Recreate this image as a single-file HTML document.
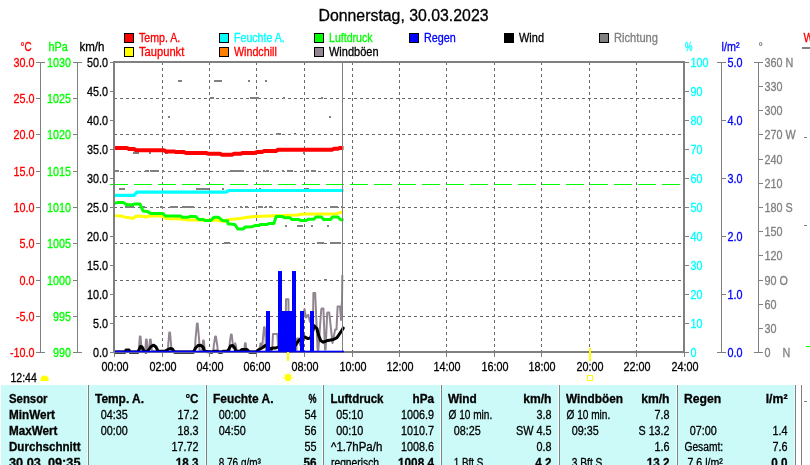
<!DOCTYPE html>
<html lang="de"><head><meta charset="utf-8"><title>Donnerstag, 30.03.2023</title>
<style>
html,body{margin:0;padding:0;background:#fff;}
body{width:810px;height:465px;overflow:hidden;}
svg{display:block;font-family:"Liberation Sans", sans-serif;font-size:12px;}
text{stroke-width:0.3px}
.b{font-weight:bold}
.ce{shape-rendering:crispEdges}
</style></head><body>
<svg width="810" height="465" viewBox="0 0 810 465">
<rect width="810" height="465" fill="#fff"/>
<g class="ce" stroke="#686868" stroke-width="1" stroke-dasharray="3 3" fill="none">
<line x1="114" y1="98.5" x2="684" y2="98.5"/>
<line x1="114" y1="134.5" x2="684" y2="134.5"/>
<line x1="114" y1="171.5" x2="684" y2="171.5"/>
<line x1="114" y1="207.5" x2="684" y2="207.5"/>
<line x1="114" y1="243.5" x2="684" y2="243.5"/>
<line x1="114" y1="280.5" x2="684" y2="280.5"/>
<line x1="114" y1="316.5" x2="684" y2="316.5"/>
<line x1="162.5" y1="62" x2="162.5" y2="352"/>
<line x1="209.5" y1="62" x2="209.5" y2="352"/>
<line x1="256.5" y1="62" x2="256.5" y2="352"/>
<line x1="304.5" y1="62" x2="304.5" y2="352"/>
<line x1="352.5" y1="62" x2="352.5" y2="352"/>
<line x1="399.5" y1="62" x2="399.5" y2="352"/>
<line x1="446.5" y1="62" x2="446.5" y2="352"/>
<line x1="494.5" y1="62" x2="494.5" y2="352"/>
<line x1="541.5" y1="62" x2="541.5" y2="352"/>
<line x1="589.5" y1="62" x2="589.5" y2="352"/>
<line x1="636.5" y1="62" x2="636.5" y2="352"/>
</g>
<g class="ce" fill="#808080">
<rect x="178" y="80" width="4" height="2"/>
<rect x="214" y="80" width="8" height="2"/>
<rect x="248" y="80" width="2" height="2"/>
<rect x="265" y="80" width="2" height="2"/>
<rect x="210" y="97" width="4" height="2"/>
<rect x="250" y="97" width="9" height="2"/>
<rect x="283" y="97" width="2" height="2"/>
<rect x="321" y="97" width="2" height="2"/>
<rect x="168" y="116" width="2" height="2"/>
<rect x="329" y="116" width="2" height="2"/>
<rect x="276" y="133" width="5" height="2"/>
<rect x="294" y="133" width="2" height="2"/>
<rect x="133" y="152" width="6" height="2"/>
<rect x="149" y="152" width="2" height="2"/>
<rect x="165" y="152" width="3" height="2"/>
<rect x="303" y="152" width="2" height="2"/>
<rect x="115" y="170" width="4" height="2"/>
<rect x="145" y="170" width="4" height="2"/>
<rect x="150" y="170" width="9" height="2"/>
<rect x="162" y="170" width="2" height="2"/>
<rect x="194" y="170" width="2" height="2"/>
<rect x="230" y="170" width="14" height="2"/>
<rect x="263" y="170" width="2" height="2"/>
<rect x="266" y="170" width="3" height="2"/>
<rect x="282" y="170" width="2" height="2"/>
<rect x="287" y="170" width="6" height="2"/>
<rect x="306" y="170" width="3" height="2"/>
<rect x="311" y="170" width="5" height="2"/>
<rect x="119" y="188" width="6" height="2"/>
<rect x="196" y="188" width="13" height="2"/>
<rect x="222" y="188" width="2" height="2"/>
<rect x="259" y="188" width="2" height="2"/>
<rect x="305" y="188" width="4" height="2"/>
<rect x="125" y="206" width="9" height="2"/>
<rect x="142" y="206" width="3" height="2"/>
<rect x="160" y="206" width="3" height="2"/>
<rect x="170" y="206" width="8" height="2"/>
<rect x="182" y="206" width="12" height="2"/>
<rect x="228" y="206" width="2" height="2"/>
<rect x="240" y="206" width="2" height="2"/>
<rect x="245" y="206" width="3" height="2"/>
<rect x="258" y="206" width="5" height="2"/>
<rect x="265" y="206" width="2" height="2"/>
<rect x="269" y="206" width="3" height="2"/>
<rect x="294" y="206" width="2" height="2"/>
<rect x="306" y="206" width="2" height="2"/>
<rect x="330" y="206" width="8" height="2"/>
<rect x="341" y="206" width="2" height="2"/>
<rect x="285" y="225" width="2" height="2"/>
<rect x="297" y="225" width="6" height="2"/>
<rect x="311" y="225" width="2" height="2"/>
<rect x="327" y="225" width="2" height="2"/>
<rect x="224" y="242" width="6" height="2"/>
<rect x="317" y="242" width="7" height="2"/>
<rect x="330" y="242" width="11" height="2"/>
<rect x="324" y="279" width="3" height="2"/>
</g>
<line class="ce" x1="110" y1="184.5" x2="684" y2="184.5" stroke="#00ff00" stroke-width="1" stroke-dasharray="18 6"/>
<polyline fill="none" stroke="#928592" stroke-width="2" stroke-linejoin="round" points="115,351 138.6,351 139.1,345.75 139.85,336.5 140.55,336.5 141.3,345.75 141.8,351 145.0,351 145.5,347.25 146.05,339.5 146.75,339.5 147.3,347.25 147.8,351 148.8,351 149.3,347.25 150.05,339.5 150.75,339.5 151.5,347.25 152,351 167.8,351 168.3,343.75 169.3,332.5 170.0,332.5 171.0,343.75 171.5,351 195,351 195.5,339.25 196.95,323.5 197.65,323.5 199.1,339.25 199.6,351 201.9,351 202.4,347.75 203.1,340.5 203.8,340.5 204.5,347.75 205,351 213.3,351 213.8,345.75 215.2,336.5 215.9,336.5 217.3,345.75 217.8,351 229.3,351 229.8,342 231,334.5 231.7,334.5 232.6,342 233.2,348 234.2,346 235.2,343.3 236,346 236.6,351 243.9,351 244.4,349.15 245.0,343.3 245.7,343.3 246.3,349.15 246.8,351 259.2,351 260.4,343.6 261.2,343.6 262.2,348 263,338 264,327.2 264.8,327.2 265.6,340 266,351 271.6,351 272.4,346 273,334 277.4,334 278,345 285.4,345 286,299.2 288.4,299.2 289,345 296.3,351 297,338.5 299,338.5 300,345 304,312 304.5,309 306,317.5 308.2,314.8 310,322 313,318 313.4,293 315.2,293 317.6,350 318.4,350 321.2,310 321.6,308.4 323.4,308.4 325,349.5 325.6,349.5 327.2,313 327.6,312.4 329.2,312.4 332.5,343 335.2,329.4 336.5,329.4 337.6,306.6 340,306.6 341,320 342,300 342.3,275"/>
<polyline fill="none" stroke="#000" stroke-width="3" stroke-linejoin="round" stroke-linecap="round" points="115,352.2 125,352.2 126,350 129,350 130,352.2 138,352.2 140.5,346.5 142,347 144,351.2 146,352.2 148.5,350 151,346.5 153.7,345.2 156,347 158,351.2 165,351.2 167,350 170,348.5 172.5,349 174.5,352.2 193.5,352.2 195.5,348 198,345.5 200.5,345.2 203,347 204.5,351.2 212,352.2 214,351.2 217,351.2 219,352.2 222,352.2 223,351.2 227,351.2 228.5,350 230.5,346 232.5,345.5 234.5,347.5 236,351.2 240,351.2 242,349.5 247,349.5 249.5,352.2 256,352.2 258,350 261,348.5 263.5,347 265.5,345.3 268,347 270.5,349 273,348 276,348 278,347 295,345.9 298.7,340.4 300,339.5 304.1,336.7 307.8,338.6 310.5,338 312.5,332 314.2,325.8 316.9,328.5 318.8,335.8 320.6,340.4 323.3,342.2 327.9,340.4 333.4,339.5 337,337.6 340.7,332.2 343.2,328.1"/>
<g class="ce" fill="#0000ff">
<rect x="266" y="311" width="4" height="41"/>
<rect x="278" y="271" width="4" height="81"/>
<rect x="282" y="311" width="11" height="41"/>
<rect x="292" y="271" width="4" height="81"/>
<rect x="300" y="311" width="4" height="41"/>
<rect x="310" y="311" width="4" height="41"/>
</g>
<polyline fill="none" stroke="#ffff00" stroke-width="3" stroke-linejoin="round" points="114.5,215.8 122,216.1 125,217.2 129.6,217.7 132.6,218.4 136.4,216.1 144.6,216.4 146,217.2 149,216.1 162.7,216.1 165.7,218.4 180.8,218.9 188.3,219.9 195.8,219.9 205,220.2 215.4,219.9 224.5,221.4 226,220.7 229.5,219.5 240,218.4 247.6,217.2 255,216.4 274.7,215.8 297.3,214.9 303.3,213.9 336.4,213.9 342.5,211.9"/>
<polyline fill="none" stroke="#00ff00" stroke-width="3" stroke-linejoin="round" points="114.5,203.3 117.5,202.6 123.5,202.6 126.6,204.8 132.6,204.8 134,204.1 140,204.1 143,210.9 147.6,211.6 150.7,213.4 162.7,213.4 165.7,216.1 180.8,216.1 182.3,217.2 188.3,217.2 189.8,216.6 195.8,216.6 198.9,219.5 203.4,219.5 204.9,220.4 210.9,220.4 213.9,217.2 218.4,217.2 222.2,220.4 227.5,220.7 228,223.7 234.8,224.4 237.8,229 243,229 245.3,227 252,226.7 255,225.6 259,225.6 260.4,224.4 267.2,224.4 268.7,223.4 274,223.4 276.2,216.4 282.2,216.4 284.5,217.7 289.8,217.7 292,219.5 298.8,219.5 300.3,220.4 306.3,220.4 308.6,219.2 313.9,219.2 316.1,216.9 321.4,216.9 323.6,219.5 330.4,219.5 332.7,216.9 338,216.9 340.2,219.5 343.5,219.9"/>
<polyline fill="none" stroke="#00ffff" stroke-width="3.2" stroke-linejoin="round" points="115,195.4 134,195.4 137,192.2 226,192.2 229,190.5 343.5,190.5"/>
<polyline fill="none" stroke="#ff0000" stroke-width="4" stroke-linejoin="round" points="115,147.9 127,147.9 129,149 134,149 136,150.3 164,150.3 166,151.4 174,151.4 176,152.1 184,152.1 186,153 206,153 208,153.7 220,153.7 222,154.8 232,154.8 234,153.7 241,153.7 243,152.9 255,152.9 257,152.1 262,152.1 264,151 276,151 278,149.8 332,149.8 334,148.8 338,148.8 340,147.9 343.5,147.9"/>
<line class="ce" x1="342.5" y1="62" x2="342.5" y2="352" stroke="#808080" stroke-width="1"/>
<g class="ce" stroke="#808080" fill="none">
<line x1="114" y1="61" x2="114" y2="353" stroke-width="2"/>
<line x1="684" y1="61" x2="684" y2="353" stroke-width="2"/>
<line x1="113" y1="62" x2="685" y2="62" stroke-width="2"/>
<line x1="113" y1="352" x2="685" y2="352" stroke-width="2"/>
<line x1="40.5" y1="62" x2="40.5" y2="352"/>
<line x1="36.0" y1="62.5" x2="44.5" y2="62.5"/>
<line x1="36.0" y1="98.5" x2="40.5" y2="98.5"/>
<line x1="36.0" y1="134.5" x2="40.5" y2="134.5"/>
<line x1="36.0" y1="171.5" x2="40.5" y2="171.5"/>
<line x1="36.0" y1="207.5" x2="40.5" y2="207.5"/>
<line x1="36.0" y1="243.5" x2="40.5" y2="243.5"/>
<line x1="36.0" y1="280.5" x2="40.5" y2="280.5"/>
<line x1="36.0" y1="316.5" x2="40.5" y2="316.5"/>
<line x1="36.0" y1="352.5" x2="44.5" y2="352.5"/>
<line x1="77.5" y1="62" x2="77.5" y2="352"/>
<line x1="73.0" y1="62.5" x2="81.5" y2="62.5"/>
<line x1="73.0" y1="98.5" x2="77.5" y2="98.5"/>
<line x1="73.0" y1="134.5" x2="77.5" y2="134.5"/>
<line x1="73.0" y1="171.5" x2="77.5" y2="171.5"/>
<line x1="73.0" y1="207.5" x2="77.5" y2="207.5"/>
<line x1="73.0" y1="243.5" x2="77.5" y2="243.5"/>
<line x1="73.0" y1="280.5" x2="77.5" y2="280.5"/>
<line x1="73.0" y1="316.5" x2="77.5" y2="316.5"/>
<line x1="73.0" y1="352.5" x2="81.5" y2="352.5"/>
<line x1="110" y1="62.5" x2="113" y2="62.5"/>
<line x1="685" y1="62.5" x2="689" y2="62.5"/>
<line x1="110" y1="91.5" x2="113" y2="91.5"/>
<line x1="685" y1="91.5" x2="689" y2="91.5"/>
<line x1="110" y1="120.5" x2="113" y2="120.5"/>
<line x1="685" y1="120.5" x2="689" y2="120.5"/>
<line x1="110" y1="149.5" x2="113" y2="149.5"/>
<line x1="685" y1="149.5" x2="689" y2="149.5"/>
<line x1="110" y1="178.5" x2="113" y2="178.5"/>
<line x1="685" y1="178.5" x2="689" y2="178.5"/>
<line x1="110" y1="207.5" x2="113" y2="207.5"/>
<line x1="685" y1="207.5" x2="689" y2="207.5"/>
<line x1="110" y1="236.5" x2="113" y2="236.5"/>
<line x1="685" y1="236.5" x2="689" y2="236.5"/>
<line x1="110" y1="265.5" x2="113" y2="265.5"/>
<line x1="685" y1="265.5" x2="689" y2="265.5"/>
<line x1="110" y1="294.5" x2="113" y2="294.5"/>
<line x1="685" y1="294.5" x2="689" y2="294.5"/>
<line x1="110" y1="323.5" x2="113" y2="323.5"/>
<line x1="685" y1="323.5" x2="689" y2="323.5"/>
<line x1="110" y1="352.5" x2="113" y2="352.5"/>
<line x1="685" y1="352.5" x2="689" y2="352.5"/>
<line x1="721.5" y1="62" x2="721.5" y2="352"/>
<line x1="717.0" y1="62.5" x2="726.0" y2="62.5"/>
<line x1="721.5" y1="120.5" x2="726.0" y2="120.5"/>
<line x1="721.5" y1="178.5" x2="726.0" y2="178.5"/>
<line x1="721.5" y1="236.5" x2="726.0" y2="236.5"/>
<line x1="721.5" y1="294.5" x2="726.0" y2="294.5"/>
<line x1="717.0" y1="352.5" x2="726.0" y2="352.5"/>
<line x1="758.5" y1="62" x2="758.5" y2="352"/>
<line x1="754.0" y1="62.5" x2="763.0" y2="62.5"/>
<line x1="758.5" y1="86.5" x2="763.0" y2="86.5"/>
<line x1="758.5" y1="110.5" x2="763.0" y2="110.5"/>
<line x1="758.5" y1="134.5" x2="763.0" y2="134.5"/>
<line x1="758.5" y1="159.5" x2="763.0" y2="159.5"/>
<line x1="758.5" y1="183.5" x2="763.0" y2="183.5"/>
<line x1="758.5" y1="207.5" x2="763.0" y2="207.5"/>
<line x1="758.5" y1="231.5" x2="763.0" y2="231.5"/>
<line x1="758.5" y1="255.5" x2="763.0" y2="255.5"/>
<line x1="758.5" y1="280.5" x2="763.0" y2="280.5"/>
<line x1="758.5" y1="304.5" x2="763.0" y2="304.5"/>
<line x1="758.5" y1="328.5" x2="763.0" y2="328.5"/>
<line x1="754.0" y1="352.5" x2="763.0" y2="352.5"/>
<line x1="114.5" y1="353" x2="114.5" y2="357"/>
<line x1="162.5" y1="353" x2="162.5" y2="357"/>
<line x1="209.5" y1="353" x2="209.5" y2="357"/>
<line x1="256.5" y1="353" x2="256.5" y2="357"/>
<line x1="304.5" y1="353" x2="304.5" y2="357"/>
<line x1="352.5" y1="353" x2="352.5" y2="357"/>
<line x1="399.5" y1="353" x2="399.5" y2="357"/>
<line x1="446.5" y1="353" x2="446.5" y2="357"/>
<line x1="494.5" y1="353" x2="494.5" y2="357"/>
<line x1="541.5" y1="353" x2="541.5" y2="357"/>
<line x1="589.5" y1="353" x2="589.5" y2="357"/>
<line x1="636.5" y1="353" x2="636.5" y2="357"/>
<line x1="684.5" y1="353" x2="684.5" y2="357"/>
</g>
<rect x="115" y="350.7" width="229" height="1.6" fill="#0000ff"/>
<g class="ce" fill="#ffff00"><rect x="287" y="352" width="2" height="9"/><rect x="589" y="348" width="2" height="13"/></g>
<rect class="ce" x="587.5" y="375.5" width="5" height="5" fill="none" stroke="#ffff00"/>
<g stroke="#ffffa0" stroke-width="1"><line x1="282.5" y1="372" x2="293.5" y2="383"/><line x1="293.5" y1="372" x2="282.5" y2="383"/><line x1="288" y1="371" x2="288" y2="384.5"/><line x1="281.5" y1="377.5" x2="294.5" y2="377.5"/></g>
<circle cx="288" cy="377.5" r="3.4" fill="#ffff00"/>
<path d="M40.5 381 L40.5 379 Q41 375.5 44.5 375.5 Q48 375.5 48.7 379 L48.7 381 Z" fill="#ffff00"/>
<text transform="translate(403.5 20.5) scale(1 1)" text-anchor="middle" stroke="#000" font-size="16" stroke-width="0.1" textLength="170" lengthAdjust="spacingAndGlyphs">Donnerstag, 30.03.2023</text>
<rect class="ce" x="124.5" y="33.5" width="9" height="9" fill="#ff0000" stroke="#000"/>
<text x="139" y="42" textLength="41.2" lengthAdjust="spacingAndGlyphs" fill="#ff0000" stroke="#ff0000">Temp. A.</text>
<rect class="ce" x="124.5" y="47.5" width="9" height="9" fill="#ffff00" stroke="#000"/>
<text x="139" y="56" textLength="45.3" lengthAdjust="spacingAndGlyphs" fill="#ff0000" stroke="#ff0000">Taupunkt</text>
<rect class="ce" x="219.5" y="33.5" width="9" height="9" fill="#00ffff" stroke="#000"/>
<text x="234" y="42" textLength="50.8" lengthAdjust="spacingAndGlyphs" fill="#00ffff" stroke="#00ffff">Feuchte A.</text>
<rect class="ce" x="219.5" y="47.5" width="9" height="9" fill="#ff8000" stroke="#000"/>
<text x="234" y="56" textLength="42.8" lengthAdjust="spacingAndGlyphs" fill="#ff0000" stroke="#ff0000">Windchill</text>
<rect class="ce" x="314.5" y="33.5" width="9" height="9" fill="#00ff00" stroke="#000"/>
<text x="329" y="42" textLength="43.6" lengthAdjust="spacingAndGlyphs" fill="#00ff00" stroke="#00ff00">Luftdruck</text>
<rect class="ce" x="314.5" y="47.5" width="9" height="9" fill="#928592" stroke="#000"/>
<text x="329" y="56" textLength="49.5" lengthAdjust="spacingAndGlyphs" stroke="#000">Windböen</text>
<rect class="ce" x="409.5" y="33.5" width="9" height="9" fill="#0000ff" stroke="#000"/>
<text x="424" y="42" textLength="31.8" lengthAdjust="spacingAndGlyphs" fill="#0000ff" stroke="#0000ff">Regen</text>
<rect class="ce" x="504.5" y="33.5" width="9" height="9" fill="#000000" stroke="#000"/>
<text x="519" y="42" textLength="25" lengthAdjust="spacingAndGlyphs" stroke="#000">Wind</text>
<rect class="ce" x="599.5" y="33.5" width="9" height="9" fill="#808080" stroke="#000"/>
<text x="614" y="42" textLength="44" lengthAdjust="spacingAndGlyphs" fill="#808080" stroke="#808080">Richtung</text>
<text transform="translate(20.5 51) scale(0.82 1)" fill="#ff0000" stroke="#ff0000">°C</text>
<text transform="translate(48.5 51) scale(0.9 1)" fill="#00ff00" stroke="#00ff00">hPa</text>
<text transform="translate(79.5 51) scale(1 1)" stroke="#000" textLength="25" lengthAdjust="spacingAndGlyphs">km/h</text>
<text transform="translate(685 51) scale(0.7 1)" fill="#00ffff" stroke="#00ffff">%</text>
<text transform="translate(721.5 51) scale(0.9 1)" fill="#0000ff" stroke="#0000ff">l/m²</text>
<text transform="translate(758.5 51) scale(0.9 1)" fill="#808080" stroke="#808080">°</text>
<text transform="translate(803.5 42) scale(0.9 1)" fill="#ff0000" stroke="#ff0000">W</text>
<rect class="ce" x="802" y="47" width="8" height="2" fill="#808080"/>
<rect class="ce" x="804" y="137" width="3" height="1" fill="#808080"/><rect class="ce" x="804" y="225" width="3" height="1" fill="#808080"/><rect class="ce" x="804" y="401" width="3" height="1" fill="#808080"/><rect class="ce" x="806" y="346" width="4" height="1" fill="#00ff00"/>
<text transform="translate(34.5 66.5) scale(0.9 1)" text-anchor="end" fill="#ff0000" stroke="#ff0000">30.0</text>
<text transform="translate(71 66.5) scale(0.9 1)" text-anchor="end" fill="#00ff00" stroke="#00ff00">1030</text>
<text transform="translate(34.5 102.5) scale(0.9 1)" text-anchor="end" fill="#ff0000" stroke="#ff0000">25.0</text>
<text transform="translate(71 102.5) scale(0.9 1)" text-anchor="end" fill="#00ff00" stroke="#00ff00">1025</text>
<text transform="translate(34.5 138.5) scale(0.9 1)" text-anchor="end" fill="#ff0000" stroke="#ff0000">20.0</text>
<text transform="translate(71 138.5) scale(0.9 1)" text-anchor="end" fill="#00ff00" stroke="#00ff00">1020</text>
<text transform="translate(34.5 175.5) scale(0.9 1)" text-anchor="end" fill="#ff0000" stroke="#ff0000">15.0</text>
<text transform="translate(71 175.5) scale(0.9 1)" text-anchor="end" fill="#00ff00" stroke="#00ff00">1015</text>
<text transform="translate(34.5 211.5) scale(0.9 1)" text-anchor="end" fill="#ff0000" stroke="#ff0000">10.0</text>
<text transform="translate(71 211.5) scale(0.9 1)" text-anchor="end" fill="#00ff00" stroke="#00ff00">1010</text>
<text transform="translate(34.5 247.5) scale(0.9 1)" text-anchor="end" fill="#ff0000" stroke="#ff0000">5.0</text>
<text transform="translate(71 247.5) scale(0.9 1)" text-anchor="end" fill="#00ff00" stroke="#00ff00">1005</text>
<text transform="translate(34.5 284.5) scale(0.9 1)" text-anchor="end" fill="#ff0000" stroke="#ff0000">0.0</text>
<text transform="translate(71 284.5) scale(0.9 1)" text-anchor="end" fill="#00ff00" stroke="#00ff00">1000</text>
<text transform="translate(34.5 320.5) scale(0.9 1)" text-anchor="end" fill="#ff0000" stroke="#ff0000">-5.0</text>
<text transform="translate(71 320.5) scale(0.9 1)" text-anchor="end" fill="#00ff00" stroke="#00ff00">995</text>
<text transform="translate(34.5 356.5) scale(0.9 1)" text-anchor="end" fill="#ff0000" stroke="#ff0000">-10.0</text>
<text transform="translate(71 356.5) scale(0.9 1)" text-anchor="end" fill="#00ff00" stroke="#00ff00">990</text>
<text transform="translate(108 66.5) scale(0.9 1)" text-anchor="end" stroke="#000">50.0</text>
<text transform="translate(690.5 66.5) scale(0.9 1)" fill="#00ffff" stroke="#00ffff">100</text>
<text transform="translate(108 95.5) scale(0.9 1)" text-anchor="end" stroke="#000">45.0</text>
<text transform="translate(690.5 95.5) scale(0.9 1)" fill="#00ffff" stroke="#00ffff">90</text>
<text transform="translate(108 124.5) scale(0.9 1)" text-anchor="end" stroke="#000">40.0</text>
<text transform="translate(690.5 124.5) scale(0.9 1)" fill="#00ffff" stroke="#00ffff">80</text>
<text transform="translate(108 153.5) scale(0.9 1)" text-anchor="end" stroke="#000">35.0</text>
<text transform="translate(690.5 153.5) scale(0.9 1)" fill="#00ffff" stroke="#00ffff">70</text>
<text transform="translate(108 182.5) scale(0.9 1)" text-anchor="end" stroke="#000">30.0</text>
<text transform="translate(690.5 182.5) scale(0.9 1)" fill="#00ffff" stroke="#00ffff">60</text>
<text transform="translate(108 211.5) scale(0.9 1)" text-anchor="end" stroke="#000">25.0</text>
<text transform="translate(690.5 211.5) scale(0.9 1)" fill="#00ffff" stroke="#00ffff">50</text>
<text transform="translate(108 240.5) scale(0.9 1)" text-anchor="end" stroke="#000">20.0</text>
<text transform="translate(690.5 240.5) scale(0.9 1)" fill="#00ffff" stroke="#00ffff">40</text>
<text transform="translate(108 269.5) scale(0.9 1)" text-anchor="end" stroke="#000">15.0</text>
<text transform="translate(690.5 269.5) scale(0.9 1)" fill="#00ffff" stroke="#00ffff">30</text>
<text transform="translate(108 298.5) scale(0.9 1)" text-anchor="end" stroke="#000">10.0</text>
<text transform="translate(690.5 298.5) scale(0.9 1)" fill="#00ffff" stroke="#00ffff">20</text>
<text transform="translate(108 327.5) scale(0.9 1)" text-anchor="end" stroke="#000">5.0</text>
<text transform="translate(690.5 327.5) scale(0.9 1)" fill="#00ffff" stroke="#00ffff">10</text>
<text transform="translate(108 356.5) scale(0.9 1)" text-anchor="end" stroke="#000">0.0</text>
<text transform="translate(690.5 356.5) scale(0.9 1)" fill="#00ffff" stroke="#00ffff">0</text>
<text transform="translate(727.5 66.5) scale(0.9 1)" fill="#0000ff" stroke="#0000ff">5.0</text>
<text transform="translate(727.5 124.5) scale(0.9 1)" fill="#0000ff" stroke="#0000ff">4.0</text>
<text transform="translate(727.5 182.5) scale(0.9 1)" fill="#0000ff" stroke="#0000ff">3.0</text>
<text transform="translate(727.5 240.5) scale(0.9 1)" fill="#0000ff" stroke="#0000ff">2.0</text>
<text transform="translate(727.5 298.5) scale(0.9 1)" fill="#0000ff" stroke="#0000ff">1.0</text>
<text transform="translate(727.5 356.5) scale(0.9 1)" fill="#0000ff" stroke="#0000ff">0.0</text>
<text transform="translate(764.5 66.5) scale(0.9 1)" fill="#808080" stroke="#808080">360 N</text>
<text transform="translate(764.5 90.5) scale(0.9 1)" fill="#808080" stroke="#808080">330</text>
<text transform="translate(764.5 114.5) scale(0.9 1)" fill="#808080" stroke="#808080">300</text>
<text transform="translate(764.5 138.5) scale(0.9 1)" fill="#808080" stroke="#808080">270 W</text>
<text transform="translate(764.5 163.5) scale(0.9 1)" fill="#808080" stroke="#808080">240</text>
<text transform="translate(764.5 187.5) scale(0.9 1)" fill="#808080" stroke="#808080">210</text>
<text transform="translate(764.5 211.5) scale(0.9 1)" fill="#808080" stroke="#808080">180 S</text>
<text transform="translate(764.5 235.5) scale(0.9 1)" fill="#808080" stroke="#808080">150</text>
<text transform="translate(764.5 259.5) scale(0.9 1)" fill="#808080" stroke="#808080">120</text>
<text transform="translate(764.5 284.5) scale(0.9 1)" fill="#808080" stroke="#808080">90 O</text>
<text transform="translate(764.5 308.5) scale(0.9 1)" fill="#808080" stroke="#808080">60</text>
<text transform="translate(764.5 332.5) scale(0.9 1)" fill="#808080" stroke="#808080">30</text>
<text transform="translate(764.5 356.5) scale(0.9 1)" fill="#808080" stroke="#808080">0</text>
<text transform="translate(782.5 356.5) scale(0.9 1)" fill="#808080" stroke="#808080">N</text>
<text transform="translate(115 370.5) scale(0.9 1)" text-anchor="middle" stroke="#000">00:00</text>
<text transform="translate(163 370.5) scale(0.9 1)" text-anchor="middle" stroke="#000">02:00</text>
<text transform="translate(210 370.5) scale(0.9 1)" text-anchor="middle" stroke="#000">04:00</text>
<text transform="translate(257 370.5) scale(0.9 1)" text-anchor="middle" stroke="#000">06:00</text>
<text transform="translate(305 370.5) scale(0.9 1)" text-anchor="middle" stroke="#000">08:00</text>
<text transform="translate(353 370.5) scale(0.9 1)" text-anchor="middle" stroke="#000">10:00</text>
<text transform="translate(400 370.5) scale(0.9 1)" text-anchor="middle" stroke="#000">12:00</text>
<text transform="translate(447 370.5) scale(0.9 1)" text-anchor="middle" stroke="#000">14:00</text>
<text transform="translate(495 370.5) scale(0.9 1)" text-anchor="middle" stroke="#000">16:00</text>
<text transform="translate(542 370.5) scale(0.9 1)" text-anchor="middle" stroke="#000">18:00</text>
<text transform="translate(590 370.5) scale(0.9 1)" text-anchor="middle" stroke="#000">20:00</text>
<text transform="translate(637 370.5) scale(0.9 1)" text-anchor="middle" stroke="#000">22:00</text>
<text transform="translate(685 370.5) scale(0.9 1)" text-anchor="middle" stroke="#000">24:00</text>
<text x="10.5" y="382" textLength="26.3" lengthAdjust="spacingAndGlyphs" stroke="#000">12:44</text>
<rect class="ce" x="1" y="385" width="793" height="80" fill="#ccfaf8"/>
<rect class="ce" x="794" y="385" width="1" height="80" fill="#e6fcfb"/>
<rect class="ce" x="87" y="385" width="1" height="80" fill="#f0ffff"/><rect class="ce" x="88" y="385" width="1" height="80" fill="#808080"/>
<rect class="ce" x="205" y="385" width="1" height="80" fill="#f0ffff"/><rect class="ce" x="206" y="385" width="1" height="80" fill="#808080"/>
<rect class="ce" x="322" y="385" width="1" height="80" fill="#f0ffff"/><rect class="ce" x="323" y="385" width="1" height="80" fill="#808080"/>
<rect class="ce" x="440" y="385" width="1" height="80" fill="#f0ffff"/><rect class="ce" x="441" y="385" width="1" height="80" fill="#808080"/>
<rect class="ce" x="558" y="385" width="1" height="80" fill="#f0ffff"/><rect class="ce" x="559" y="385" width="1" height="80" fill="#808080"/>
<rect class="ce" x="676" y="385" width="1" height="80" fill="#f0ffff"/><rect class="ce" x="677" y="385" width="1" height="80" fill="#808080"/>
<rect class="ce" x="795" y="385" width="1" height="80" fill="#808080"/><rect class="ce" x="801" y="385" width="1" height="80" fill="#808080"/>
<text x="9" y="402.5" textLength="38.5" lengthAdjust="spacingAndGlyphs" class="b" stroke="#000">Sensor</text>
<text x="9" y="418.5" textLength="46" lengthAdjust="spacingAndGlyphs" class="b" stroke="#000">MinWert</text>
<text x="9" y="434.5" textLength="48.5" lengthAdjust="spacingAndGlyphs" class="b" stroke="#000">MaxWert</text>
<text x="9" y="450.5" textLength="71.5" lengthAdjust="spacingAndGlyphs" class="b" stroke="#000">Durchschnitt</text>
<text x="9" y="466.5" textLength="71.5" lengthAdjust="spacingAndGlyphs" class="b" stroke="#000">30.03. 09:35</text>
<text x="95" y="402.5" textLength="49" lengthAdjust="spacingAndGlyphs" class="b" stroke="#000">Temp. A.</text>
<text transform="translate(198.5 402.5) scale(0.97 1)" text-anchor="end" class="b" stroke="#000">°C</text>
<text transform="translate(100.8 418.5) scale(0.9 1)" stroke="#000">04:35</text>
<text transform="translate(198.5 418.5) scale(0.9 1)" text-anchor="end" stroke="#000">17.2</text>
<text transform="translate(100.8 434.5) scale(0.9 1)" stroke="#000">00:00</text>
<text transform="translate(198.5 434.5) scale(0.9 1)" text-anchor="end" stroke="#000">18.3</text>
<text transform="translate(198.5 450.5) scale(0.9 1)" text-anchor="end" stroke="#000">17.72</text>
<text transform="translate(198.5 466.5) scale(0.97 1)" text-anchor="end" class="b" stroke="#000">18.3</text>
<text x="213" y="402.5" textLength="60.5" lengthAdjust="spacingAndGlyphs" class="b" stroke="#000">Feuchte A.</text>
<text transform="translate(316.5 402.5) scale(0.75 1)" text-anchor="end" class="b" stroke="#000">%</text>
<text transform="translate(218.8 418.5) scale(0.9 1)" stroke="#000">00:00</text>
<text transform="translate(316.5 418.5) scale(0.9 1)" text-anchor="end" stroke="#000">54</text>
<text transform="translate(218.8 434.5) scale(0.9 1)" stroke="#000">04:50</text>
<text transform="translate(316.5 434.5) scale(0.9 1)" text-anchor="end" stroke="#000">56</text>
<text transform="translate(316.5 450.5) scale(0.9 1)" text-anchor="end" stroke="#000">55</text>
<text x="218.8" y="466.5" textLength="42" lengthAdjust="spacingAndGlyphs" stroke="#000">8.76 g/m³</text>
<text transform="translate(316.5 466.5) scale(0.97 1)" text-anchor="end" class="b" stroke="#000">56</text>
<text x="330.5" y="402.5" textLength="53" lengthAdjust="spacingAndGlyphs" class="b" stroke="#000">Luftdruck</text>
<text x="434.0" y="402.5" textLength="21.5" lengthAdjust="spacingAndGlyphs" text-anchor="end" class="b" stroke="#000">hPa</text>
<text transform="translate(336.3 418.5) scale(0.9 1)" stroke="#000">05:10</text>
<text x="434.0" y="418.5" textLength="33" lengthAdjust="spacingAndGlyphs" text-anchor="end" stroke="#000">1006.9</text>
<text transform="translate(336.3 434.5) scale(0.9 1)" stroke="#000">00:10</text>
<text x="434.0" y="434.5" textLength="33" lengthAdjust="spacingAndGlyphs" text-anchor="end" stroke="#000">1010.7</text>
<text x="331.0" y="450.5" textLength="51.3" lengthAdjust="spacingAndGlyphs" stroke="#000">^1.7hPa/h</text>
<text x="434.0" y="450.5" textLength="33" lengthAdjust="spacingAndGlyphs" text-anchor="end" stroke="#000">1008.6</text>
<text x="331.0" y="466.5" textLength="48" lengthAdjust="spacingAndGlyphs" stroke="#000">regnerisch</text>
<text x="434.0" y="466.5" textLength="36" lengthAdjust="spacingAndGlyphs" text-anchor="end" class="b" stroke="#000">1008.4</text>
<text x="448" y="402.5" textLength="28.8" lengthAdjust="spacingAndGlyphs" class="b" stroke="#000">Wind</text>
<text x="551.5" y="402.5" textLength="28.3" lengthAdjust="spacingAndGlyphs" text-anchor="end" class="b" stroke="#000">km/h</text>
<text x="448.5" y="418.5" textLength="43.8" lengthAdjust="spacingAndGlyphs" stroke="#000">Ø 10 min.</text>
<text transform="translate(551.5 418.5) scale(0.9 1)" text-anchor="end" stroke="#000">3.8</text>
<text transform="translate(453.8 434.5) scale(0.9 1)" stroke="#000">08:25</text>
<text x="551.5" y="434.5" textLength="35.6" lengthAdjust="spacingAndGlyphs" text-anchor="end" stroke="#000">SW 4.5</text>
<text transform="translate(551.5 450.5) scale(0.9 1)" text-anchor="end" stroke="#000">0.8</text>
<text x="453.8" y="466.5" textLength="29.6" lengthAdjust="spacingAndGlyphs" stroke="#000">1 Bft S</text>
<text transform="translate(551.5 466.5) scale(0.97 1)" text-anchor="end" class="b" stroke="#000">4.2</text>
<text x="566" y="402.5" textLength="57" lengthAdjust="spacingAndGlyphs" class="b" stroke="#000">Windböen</text>
<text x="669.5" y="402.5" textLength="28.3" lengthAdjust="spacingAndGlyphs" text-anchor="end" class="b" stroke="#000">km/h</text>
<text x="566.5" y="418.5" textLength="43.8" lengthAdjust="spacingAndGlyphs" stroke="#000">Ø 10 min.</text>
<text transform="translate(669.5 418.5) scale(0.9 1)" text-anchor="end" stroke="#000">7.8</text>
<text transform="translate(571.8 434.5) scale(0.9 1)" stroke="#000">09:35</text>
<text x="669.5" y="434.5" textLength="31" lengthAdjust="spacingAndGlyphs" text-anchor="end" stroke="#000">S 13.2</text>
<text transform="translate(669.5 450.5) scale(0.9 1)" text-anchor="end" stroke="#000">1.6</text>
<text x="571.8" y="466.5" textLength="30.6" lengthAdjust="spacingAndGlyphs" stroke="#000">3 Bft S</text>
<text transform="translate(669.5 466.5) scale(0.97 1)" text-anchor="end" class="b" stroke="#000">13.2</text>
<text x="684" y="402.5" textLength="37.2" lengthAdjust="spacingAndGlyphs" class="b" stroke="#000">Regen</text>
<text x="787.5" y="402.5" textLength="21.8" lengthAdjust="spacingAndGlyphs" text-anchor="end" class="b" stroke="#000">l/m²</text>
<text transform="translate(689.8 434.5) scale(0.9 1)" stroke="#000">07:00</text>
<text transform="translate(787.5 434.5) scale(0.9 1)" text-anchor="end" stroke="#000">1.4</text>
<text x="684.5" y="450.5" textLength="38.6" lengthAdjust="spacingAndGlyphs" stroke="#000">Gesamt:</text>
<text transform="translate(787.5 450.5) scale(0.9 1)" text-anchor="end" stroke="#000">7.6</text>
<text x="687.5" y="466.5" textLength="35.3" lengthAdjust="spacingAndGlyphs" stroke="#000">7.6 l/m²</text>
<text transform="translate(787.5 466.5) scale(0.97 1)" text-anchor="end" class="b" stroke="#000">0.0</text>
</svg></body></html>
